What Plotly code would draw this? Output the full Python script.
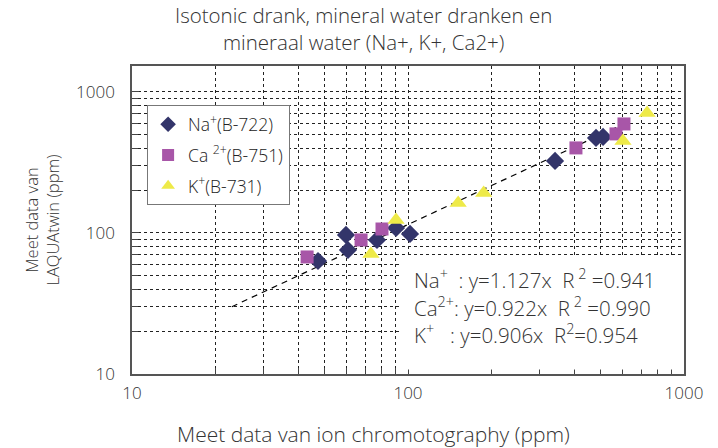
import plotly.graph_objects as go

# ---- data ----
na_x = [47.2, 59.6, 60.6, 77.2, 90.5, 101.7, 341, 480, 509]
na_y = [63.3, 96.8, 75.7, 89.2, 108.5, 98.4, 324, 472, 480]
ca_x = [43.1, 67.6, 80.5, 406, 567, 606]
ca_y = [67.6, 89.2, 106.7, 401, 504, 593]
k_x = [73.4, 90.5, 152, 188, 601, 735]
k_y = [71.0, 123.6, 163, 192, 449, 710]
trend_x = [23, 594]
trend_y = [30, 584]

major_ticks = [10, 100, 1000]
major_labels = ["10", "100", "1000"]
minor_ticks = [20, 30, 40, 50, 60, 70, 80, 90, 200, 300, 400, 500, 600, 700, 800, 900]

fit_lines = [
    "Na<sup>+</sup>\u00a0 : y=1.127x\u00a0 R<sup>\u00a02</sup> =0.941",
    "Ca<sup>2+</sup>: y=0.922x\u00a0 R<sup>\u00a02</sup> =0.990",
    "K<sup>+</sup>\u00a0\u00a0 : y=0.906x\u00a0 R<sup>2</sup>=0.954",
]

FONT = "Open Sans"
TXT = "#333333"

fig = go.Figure()
fig.add_trace(go.Scatter(x=trend_x, y=trend_y, mode="lines", showlegend=False,
                         line=dict(color="black", width=1.2, dash="6px,5px")))
fig.add_trace(go.Scatter(x=na_x, y=na_y, mode="markers", name="Na<sup>+</sup>(B-722)",
                         legendgroup="na",
                         marker=dict(symbol="diamond", size=14, color="#33356a")))
fig.add_trace(go.Scatter(x=ca_x, y=ca_y, mode="markers", name="Ca <sup>2+</sup>(B-751)",
                         legendgroup="ca",
                         marker=dict(symbol="square", size=13, color="#a856a8")))
fig.add_trace(go.Scatter(x=k_x, y=k_y, mode="markers", name="K<sup>+</sup>(B-731)",
                         legendgroup="k",
                         marker=dict(symbol="triangle-up", size=15, color="#eeea48")))

axis_common = dict(
    type="log",
    tickmode="array", tickvals=major_ticks, ticktext=major_labels,
    ticks="inside", ticklen=7, tickcolor="#444",
    showgrid=True, gridcolor="#222", griddash="dot", gridwidth=1,
    minor=dict(tickvals=minor_ticks, ticks="inside", ticklen=6, tickcolor="#444",
               showgrid=True, gridcolor="#222", griddash="dot", gridwidth=1),
    showline=True, linecolor="#555", linewidth=1.5, mirror=True,
    zeroline=False, automargin=False,
    tickfont=dict(family=FONT, size=17, color=TXT, weight=300),
)

fig.update_xaxes(range=[1, 3], ticklabelstandoff=3, **axis_common)
fig.update_yaxes(range=[1, 3.184], ticklabelstandoff=12,
                 title=dict(text="Meet data van<br>LAQUAtwin (ppm)",
                            font=dict(family=FONT, size=16.5, color=TXT, weight=300), standoff=12),
                 **axis_common)

# chart title (two lines above the plot)
fig.add_annotation(text="Isotonic drank, mineral water dranken en<br>mineraal water (Na+, K+, Ca2+)",
                   xref="paper", yref="paper", x=0.42, y=1, xanchor="center", yanchor="bottom",
                   yshift=8, showarrow=False,
                   font=dict(family=FONT, size=20.5, color=TXT, weight=300))

# x-axis title (sits left of the plot centre in the reference)
fig.add_annotation(text="Meet data van ion chromotography (ppm)", xref="paper", yref="paper",
                   x=0.438, y=0, xanchor="center", yanchor="top", yshift=-44,
                   showarrow=False, font=dict(family=FONT, size=21, color=TXT, weight=300))

# white panel behind the fit equations (empty annotation box)
fig.add_annotation(text="", xref="paper", yref="paper", x=0.486, y=0.013,
                   xanchor="left", yanchor="bottom", showarrow=False,
                   width=282, height=112, bgcolor="white", borderpad=0)

ys = [0.309, 0.218, 0.130]
for t, yy in zip(fit_lines, ys):
    fig.add_annotation(text=t, xref="paper", yref="paper", x=0.507, y=yy,
                       xanchor="left", yanchor="middle", showarrow=False,
                       font=dict(family=FONT, size=20.5, color=TXT, weight=300))

# the page body has an 8px margin: shrink the figure so the plot sits where the reference has it
fig.update_layout(
    width=710, height=440,
    margin=dict(l=124, r=34, t=58, b=74, autoexpand=False),
    paper_bgcolor="white", plot_bgcolor="white",
    legend=dict(x=0.027, y=0.873, xanchor="left", yanchor="top",
                bgcolor="white", bordercolor="#777", borderwidth=1.2,
                font=dict(family=FONT, size=17.5, color="#222", weight=300),
                tracegroupgap=5, itemsizing="constant"),
    showlegend=True,
)

fig.write_html("out.html")
